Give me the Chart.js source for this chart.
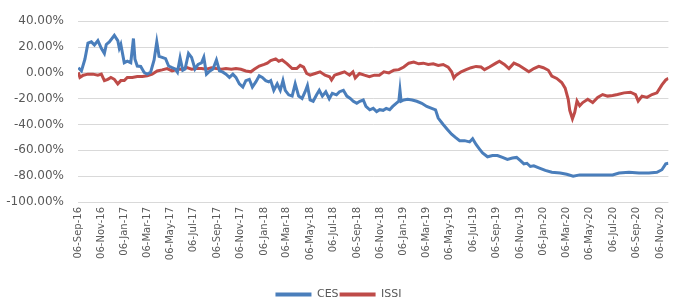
<!DOCTYPE html>
<html>
<head>
<meta charset="utf-8">
<script src="https://cdn.jsdelivr.net/npm/chart.js@4.4.1/dist/chart.umd.min.js"></script>
<style>
  html, body { margin: 0; padding: 0; background: #ffffff; }
  #wrap { width: 677px; height: 297px; }
</style>
</head>
<body>
<div id="wrap"><canvas id="c" width="677" height="297"></canvas></div>
<script>
const START_DATE = '2016-09-06';
const END_DATE = '2020-11-28';

const tickLabels = ['06-Sep-16','06-Nov-16','06-Jan-17','06-Mar-17','06-May-17','06-Jul-17','06-Sep-17','06-Nov-17',
  '06-Jan-18','06-Mar-18','06-May-18','06-Jul-18','06-Sep-18','06-Nov-18','06-Jan-19','06-Mar-19','06-May-19',
  '06-Jul-19','06-Sep-19','06-Nov-19','06-Jan-20','06-Mar-20','06-May-20','06-Jul-20','06-Sep-20','06-Nov-20'];

const seriesNames = ['CES', 'ISSI'];

const cesDates = ['2016-09-07','2016-09-15','2016-09-24','2016-10-02','2016-10-11','2016-10-19','2016-10-28','2016-11-06',
  '2016-11-14','2016-11-19','2016-11-27','2016-12-10','2016-12-19','2016-12-23','2016-12-27','2017-01-05','2017-01-13',
  '2017-01-22','2017-01-29','2017-02-02','2017-02-08','2017-02-17','2017-02-26','2017-03-06','2017-03-15','2017-03-24',
  '2017-03-31','2017-04-06','2017-04-14','2017-04-23','2017-05-01','2017-05-10','2017-05-18','2017-05-24','2017-05-31',
  '2017-06-07','2017-06-13','2017-06-22','2017-06-30','2017-07-09','2017-07-17','2017-07-26','2017-08-01','2017-08-08',
  '2017-08-17','2017-08-25','2017-09-03','2017-09-11','2017-09-20','2017-09-28','2017-10-07','2017-10-16','2017-10-24',
  '2017-11-02','2017-11-11','2017-11-19','2017-11-28','2017-12-06','2017-12-15','2017-12-24','2018-01-01','2018-01-10',
  '2018-01-18','2018-01-23','2018-01-31','2018-02-09','2018-02-17','2018-02-24','2018-03-02','2018-03-11','2018-03-20',
  '2018-03-28','2018-04-06','2018-04-15','2018-04-23','2018-04-29','2018-05-06','2018-05-14','2018-05-23','2018-05-30',
  '2018-06-07','2018-06-16','2018-06-25','2018-07-03','2018-07-14','2018-07-22','2018-08-01','2018-08-10','2018-08-19',
  '2018-08-27','2018-09-05','2018-09-13','2018-09-22','2018-09-29','2018-10-09','2018-10-18','2018-10-27','2018-11-04',
  '2018-11-13','2018-11-21','2018-11-30','2018-12-08','2018-12-17','2018-12-24','2018-12-27','2018-12-30','2019-01-06',
  '2019-01-16','2019-01-28','2019-02-09','2019-02-22','2019-03-07','2019-03-20','2019-03-30','2019-04-06','2019-04-19',
  '2019-04-30','2019-05-11','2019-05-21','2019-06-01','2019-06-14','2019-06-27','2019-07-05','2019-07-14','2019-07-23',
  '2019-07-31','2019-08-13','2019-08-26','2019-09-08','2019-09-21','2019-10-04','2019-10-17','2019-10-28','2019-11-07',
  '2019-11-16','2019-11-24','2019-12-03','2019-12-12','2019-12-25','2020-01-11','2020-01-28','2020-02-19','2020-03-07',
  '2020-03-24','2020-04-10','2020-05-06','2020-06-09','2020-07-05','2020-07-22','2020-08-17','2020-09-12','2020-10-08',
  '2020-10-29','2020-11-11','2020-11-21','2020-11-28'];
const cesValues = [4,1.5,10.5,23,24,21.6,25,19,15,22,24,29,25,19,22,7.8,9,7.8,26.6,10.5,5.3,5,0.3,-1,0.5,10,24,12.8,12,11,
  5.3,4,3,0.5,11.6,2,3,15,12,3,6.5,7.7,12,-1,1.5,3,10,1.5,0.5,-1,-3.5,-1,-3.5,-8.5,-11,-6,-5,-11,-7,-2.3,-3.5,-6,-7,-6,
  -13.5,-8.5,-13.5,-6,-13.5,-17,-18,-8.5,-18,-19.8,-14.6,-9.8,-21,-22,-17,-13.5,-18,-14.6,-20,-15.8,-17,-14.6,-13.5,-18,
  -19.8,-22,-23.6,-22,-21,-26,-28.6,-27.5,-30,-28.5,-29,-27.5,-28.5,-26,-23.6,-22,-13.5,-22,-21,-20.5,-21,-22,-23.6,-26,
  -27.5,-28.6,-35,-40,-43.8,-47.5,-50,-52.6,-52.5,-53.5,-51,-55.5,-59,-62,-65,-64,-64,-65.5,-67,-66,-65.5,-68,-70.5,-70,
  -72.5,-72,-73.5,-75.5,-77,-77.5,-78.5,-80,-79,-79,-79,-79,-77.5,-77,-77.5,-77.5,-77,-75,-70.5,-70];

const issiDates = ['2016-09-07','2016-09-11','2016-09-20','2016-10-02','2016-10-15','2016-10-28','2016-11-06','2016-11-14',
  '2016-11-23','2016-12-01','2016-12-10','2016-12-19','2016-12-27','2017-01-05','2017-01-13','2017-01-26','2017-02-08',
  '2017-02-21','2017-03-06','2017-03-19','2017-04-01','2017-04-14','2017-04-27','2017-05-10','2017-05-23','2017-06-05',
  '2017-06-18','2017-06-30','2017-07-13','2017-07-26','2017-08-08','2017-08-21','2017-09-03','2017-09-16','2017-09-28',
  '2017-10-12','2017-10-24','2017-11-06','2017-11-19','2017-12-02','2017-12-11','2017-12-24','2018-01-06','2018-01-14',
  '2018-01-23','2018-02-05','2018-02-13','2018-02-22','2018-03-07','2018-03-20','2018-04-01','2018-04-10','2018-04-19',
  '2018-04-27','2018-05-06','2018-05-19','2018-06-01','2018-06-14','2018-06-26','2018-07-01','2018-07-09','2018-07-22',
  '2018-08-04','2018-08-17','2018-08-26','2018-09-01','2018-09-12','2018-09-25','2018-10-08','2018-10-21','2018-11-03',
  '2018-11-15','2018-11-28','2018-12-11','2018-12-24','2019-01-06','2019-01-19','2019-02-01','2019-02-14','2019-02-26',
  '2019-03-11','2019-03-24','2019-04-06','2019-04-19','2019-05-02','2019-05-11','2019-05-17','2019-05-23','2019-06-05',
  '2019-06-18','2019-07-01','2019-07-14','2019-07-27','2019-08-05','2019-08-18','2019-09-04','2019-09-13','2019-09-26',
  '2019-10-08','2019-10-21','2019-11-03','2019-11-16','2019-11-29','2019-12-12','2019-12-25','2020-01-06','2020-01-19',
  '2020-01-28','2020-02-10','2020-02-23','2020-03-03','2020-03-11','2020-03-15','2020-03-22','2020-03-28','2020-04-03',
  '2020-04-10','2020-04-18','2020-05-01','2020-05-14','2020-05-27','2020-06-09','2020-06-22','2020-07-05','2020-07-18',
  '2020-08-04','2020-08-21','2020-09-03','2020-09-10','2020-09-20','2020-10-03','2020-10-16','2020-10-29','2020-11-11',
  '2020-11-21','2020-11-28'];
const issiValues = [0.3,-3.5,-1.8,-1,-1,-1.8,-1,-6,-5,-3.5,-5,-8.5,-6,-6,-3.5,-3.5,-2.8,-2.8,-2.3,-1,1.5,2.3,3.3,1.5,2.8,
  2.8,4,2.8,3.3,3.3,2.8,4,3.3,2.8,3.3,2.8,3.3,2.8,1.5,0.8,2.8,5.3,6.5,7.5,9.5,10.8,9,10,7,3.3,3.3,5.8,4.5,-0.5,-1.8,-0.5,
  0.8,-1.8,-3,-5.5,-1.8,-0.5,0.8,-1.8,0.8,-4,-0.5,-1.8,-3,-1.8,-1.8,0.8,0,2,2.5,4.5,7.5,8.3,7,7.5,6.5,7,5.8,6.5,4.5,0.8,
  -4,-1.8,0.8,2.5,4,5,4.5,2.5,4.5,7.5,9,6.5,3.3,7.5,5.8,3.3,0.8,3.3,5,4,2,-2.5,-4.3,-7.5,-11.8,-20.5,-29,-35.5,-30.5,
  -21.8,-25.5,-23,-20.5,-23,-19,-16.8,-18,-17.5,-16.8,-15.5,-15,-16.8,-21.8,-18,-19,-16.8,-15.5,-9.3,-5.5,-4.3];

const MONTHS = {Jan:0,Feb:1,Mar:2,Apr:3,May:4,Jun:5,Jul:6,Aug:7,Sep:8,Oct:9,Nov:10,Dec:11};
function isoDay(s) { const p = s.split('-').map(Number); return Date.UTC(p[0], p[1]-1, p[2]) / 86400000; }
const day0 = isoDay(START_DATE);
function dayOf(s) { return isoDay(s) - day0; }
function labelDay(l) { const p = l.split('-'); return Date.UTC(2000 + Number(p[2]), MONTHS[p[1]], Number(p[0])) / 86400000 - day0; }
const tickDays = tickLabels.map(labelDay);

const toPoints = (dates, vals) => dates.map((d, i) => ({ x: dayOf(d), y: vals[i] }));

const BLUE = '#4a7ebb';
const RED = '#be4b48';
const TXT = '#595959';

new Chart(document.getElementById('c'), {
  type: 'line',
  data: {
    datasets: [
      { label: seriesNames[0], data: toPoints(cesDates, cesValues), borderColor: BLUE, backgroundColor: BLUE,
        borderWidth: 3, pointRadius: 0, tension: 0 },
      { label: seriesNames[1], data: toPoints(issiDates, issiValues), borderColor: RED, backgroundColor: RED,
        borderWidth: 3, pointRadius: 0, tension: 0 }
    ]
  },
  options: {
    responsive: false,
    animation: false,
    devicePixelRatio: 1,
    layout: { padding: { top: 21, right: 0, left: 0, bottom: -13 } },
    plugins: {
      legend: {
        position: 'bottom',
        labels: {
          color: TXT,
          font: { family: 'DejaVu Sans', size: 11 },
          boxWidth: 36, boxHeight: 4, padding: 1,
          generateLabels: (chart) => Chart.defaults.plugins.legend.labels.generateLabels(chart)
            .map(l => Object.assign(l, { lineWidth: 0, fillStyle: l.strokeStyle }))
        }
      },
      tooltip: { enabled: false }
    },
    scales: {
      x: {
        type: 'linear',
        min: 0,
        max: dayOf(END_DATE),
        afterBuildTicks: (scale) => { scale.ticks = tickDays.map(v => ({ value: v })); },
        afterFit: (scale) => { scale.height = 86; },
        grid: { display: false, drawTicks: false },
        border: { display: false },
        ticks: {
          autoSkip: false, maxRotation: 90, minRotation: 90, padding: 5,
          color: TXT, font: { family: 'DejaVu Sans', size: 10 },
          callback: (v, i) => tickLabels[i]
        }
      },
      y: {
        min: -100, max: 40,
        afterBuildTicks: (scale) => {
          const t = []; for (let v = -100; v <= 40; v += 20) t.push({ value: v }); scale.ticks = t;
        },
        afterFit: (scale) => { scale.width = 78; },
        grid: { color: '#d9d9d9', lineWidth: 1, drawTicks: false },
        border: { display: false },
        ticks: {
          padding: 14, color: TXT, font: { family: 'DejaVu Sans', size: 12 },
          callback: (v) => v.toFixed(2) + '%'
        }
      }
    }
  }
});
</script>
</body>
</html>
